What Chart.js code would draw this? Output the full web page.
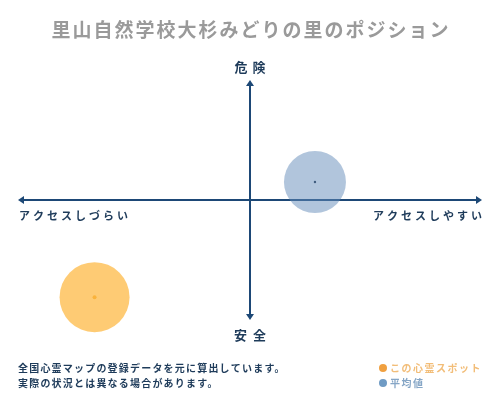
<!DOCTYPE html>
<html><head><meta charset="utf-8">
<script src="https://cdn.jsdelivr.net/npm/chart.js@4"></script>
<style>html,body{margin:0;padding:0;background:#fff;}canvas{display:block;}</style>
</head><body>
<canvas id="c" width="500" height="400"></canvas>
<script>
const titleText = '里山自然学校大杉みどりの里のポジション';
const axisLabels = { top: '危険', bottom: '安全', left: 'アクセスしづらい', right: 'アクセスしやすい' };
const seriesNames = ['この心霊スポット', '平均値'];
const spotX = [-6.7];
const spotY = [-8.1];
const avgX = [2.8];
const avgY = [1.5];
const noteLines = ['全国心霊マップの登録データを元に算出しています。', '実際の状況とは異なる場合があります。'];

const FONT = '"Noto Sans CJK JP", "Noto Sans", sans-serif';
const NAVY = '#1d4876';

function pts(xs, ys) { return xs.map((x, i) => ({ x: x, y: ys[i] })); }

function spaced(ctx, text, x, y, spacing, align) {
  ctx.letterSpacing = spacing + 'px';
  let w = ctx.measureText(text).width - spacing;
  let sx = align === 'center' ? x - w / 2 : align === 'right' ? x - w : x;
  ctx.textAlign = 'left';
  ctx.fillText(text, sx, y);
  ctx.letterSpacing = '0px';
}

const decor = {
  id: 'decor',
  beforeDatasetsDraw(chart) {
    const ctx = chart.ctx;
    const xs = chart.scales.x, ys = chart.scales.y;
    const cx = xs.getPixelForValue(0), cy = ys.getPixelForValue(0);
    const l = xs.getPixelForValue(xs.min), r = xs.getPixelForValue(xs.max);
    const t = ys.getPixelForValue(ys.max), b = ys.getPixelForValue(ys.min);
    ctx.save();
    ctx.strokeStyle = NAVY; ctx.fillStyle = NAVY; ctx.lineWidth = 2;
    ctx.beginPath();
    ctx.moveTo(l + 4, cy); ctx.lineTo(r - 4, cy);
    ctx.moveTo(cx, t + 4); ctx.lineTo(cx, b - 4);
    ctx.stroke();
    const a = 6, h = 4;
    ctx.beginPath(); ctx.moveTo(l, cy); ctx.lineTo(l + a, cy - h); ctx.lineTo(l + a, cy + h); ctx.closePath(); ctx.fill();
    ctx.beginPath(); ctx.moveTo(r, cy); ctx.lineTo(r - a, cy - h); ctx.lineTo(r - a, cy + h); ctx.closePath(); ctx.fill();
    ctx.beginPath(); ctx.moveTo(cx, t); ctx.lineTo(cx - h, t + a); ctx.lineTo(cx + h, t + a); ctx.closePath(); ctx.fill();
    ctx.beginPath(); ctx.moveTo(cx, b); ctx.lineTo(cx - h, b - a); ctx.lineTo(cx + h, b - a); ctx.closePath(); ctx.fill();

    ctx.textBaseline = 'middle';
    ctx.fillStyle = '#9a9a9a';
    ctx.font = 'bold 19px ' + FONT;
    spaced(ctx, titleText, 250, 30, 2, 'center');

    ctx.fillStyle = '#1e3b5a';
    ctx.font = 'bold 13px ' + FONT;
    spaced(ctx, axisLabels.top, cx, 67, 5, 'center');
    spaced(ctx, axisLabels.bottom, cx, 335, 6, 'center');
    ctx.font = 'bold 11px ' + FONT;
    spaced(ctx, axisLabels.left, l + 1, 216, 3, 'left');
    spaced(ctx, axisLabels.right, r, 216, 3, 'right');

    ctx.font = 'bold 10px ' + FONT;
    spaced(ctx, noteLines[0], 18, 368, 1.2, 'left');
    spaced(ctx, noteLines[1], 18, 383, 1.2, 'left');

    ctx.fillStyle = '#f0a040';
    ctx.beginPath(); ctx.arc(383, 368, 4, 0, Math.PI * 2); ctx.fill();
    ctx.fillStyle = '#6f9bc4';
    ctx.beginPath(); ctx.arc(383, 383, 4, 0, Math.PI * 2); ctx.fill();
    ctx.font = 'bold 10px ' + FONT;
    ctx.fillStyle = '#f2bd78';
    spaced(ctx, seriesNames[0], 390, 368, 1.5, 'left');
    ctx.fillStyle = '#86a6c6';
    spaced(ctx, seriesNames[1], 390, 383, 1.5, 'left');
    ctx.restore();
  }
};

new Chart(document.getElementById('c'), {
  type: 'scatter',
  data: {
    datasets: [
      { label: seriesNames[1], data: pts(avgX, avgY), backgroundColor: 'rgba(100,140,185,0.5)', borderWidth: 0, pointRadius: 31, clip: false },
      { label: seriesNames[0], data: pts(spotX, spotY), backgroundColor: 'rgba(254,185,70,0.75)', borderWidth: 0, pointRadius: 35, clip: false },
      { label: seriesNames[1] + '中心', data: pts(avgX, avgY), backgroundColor: '#1d2f45', borderWidth: 0, pointRadius: 1.2, clip: false },
      { label: seriesNames[0] + '中心', data: pts(spotX, spotY), backgroundColor: '#f0a020', borderWidth: 0, pointRadius: 2, clip: false }
    ]
  },
  options: {
    responsive: false,
    animation: false,
    devicePixelRatio: 1,
    layout: { autoPadding: false, padding: { left: 18, right: 18, top: 80, bottom: 80 } },
    scales: {
      x: { type: 'linear', min: -10, max: 10, display: false },
      y: { type: 'linear', min: -10, max: 10, display: false }
    },
    plugins: { legend: { display: false }, tooltip: { enabled: false }, title: { display: false } }
  },
  plugins: [decor]
});
</script>
</body></html>
